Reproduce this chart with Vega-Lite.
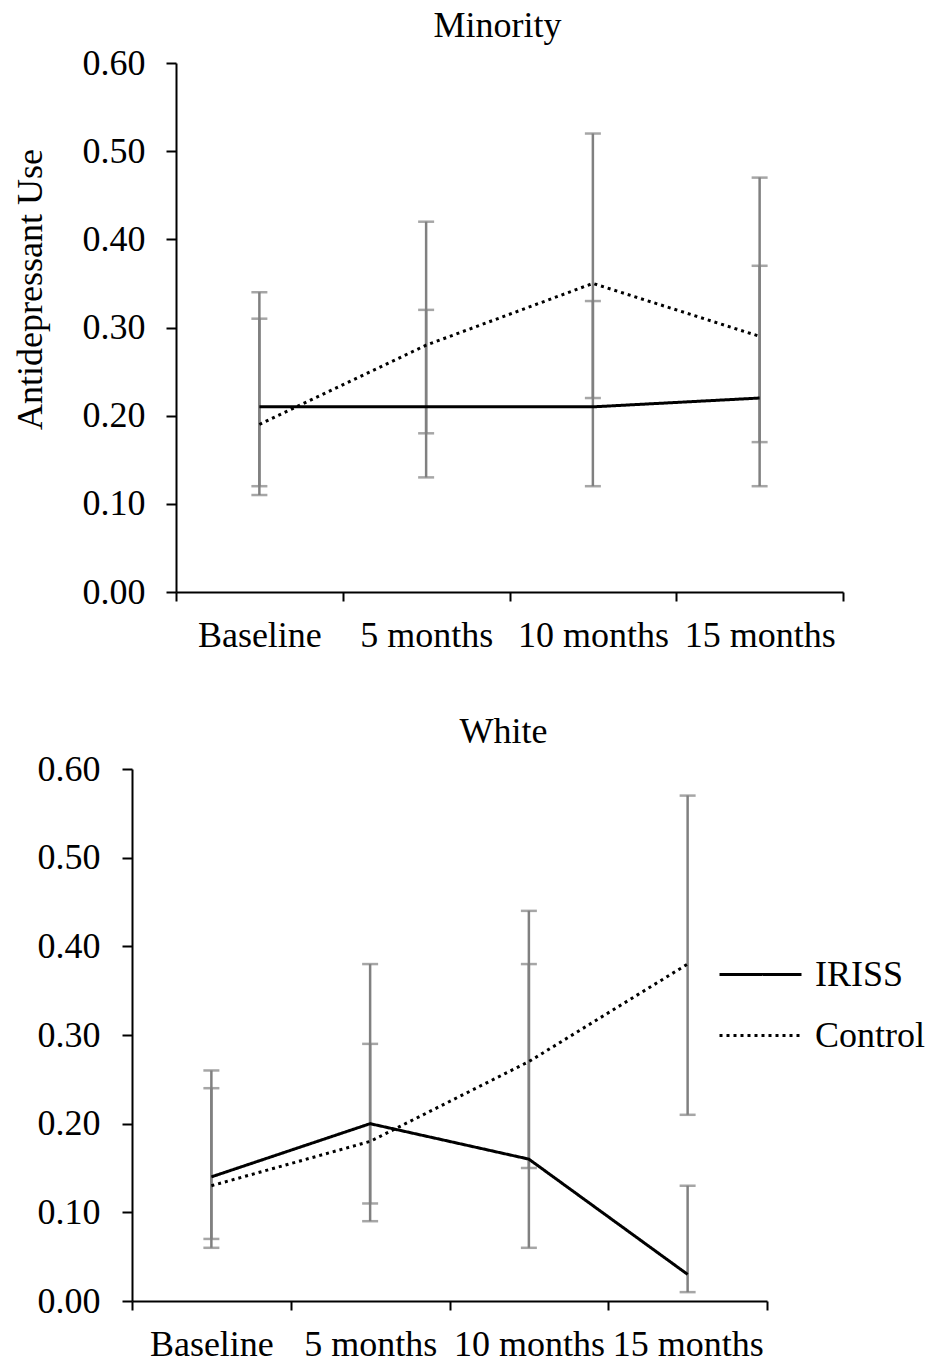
{
  "$schema": "https://vega.github.io/schema/vega-lite/v6.json",
  "background": "white",
  "padding": {"left": 12, "top": 8, "right": 5, "bottom": 5},
  "spacing": 61,
  "config": {
    "font": "Liberation Serif",
    "view": {"stroke": null},
    "axis": {
      "labelFont": "Liberation Serif",
      "labelFontSize": 36,
      "labelColor": "black",
      "titleFont": "Liberation Serif",
      "titleFontSize": 36,
      "titleFontWeight": "normal",
      "titleColor": "black",
      "domainColor": "black",
      "domainWidth": 2,
      "tickColor": "black",
      "tickWidth": 2,
      "grid": false
    },
    "title": {"font": "Liberation Serif", "fontSize": 36, "fontWeight": "normal", "color": "black", "baseline": "alphabetic"}
  },
  "datasets": {
    "minority": [
      {"time": "Baseline", "group": "IRISS", "value": 0.21, "lo": 0.12, "hi": 0.34},
      {"time": "Baseline", "group": "Control", "value": 0.19, "lo": 0.11, "hi": 0.31},
      {"time": "5 months", "group": "IRISS", "value": 0.21, "lo": 0.13, "hi": 0.32},
      {"time": "5 months", "group": "Control", "value": 0.28, "lo": 0.18, "hi": 0.42},
      {"time": "10 months", "group": "IRISS", "value": 0.21, "lo": 0.12, "hi": 0.33},
      {"time": "10 months", "group": "Control", "value": 0.35, "lo": 0.22, "hi": 0.52},
      {"time": "15 months", "group": "IRISS", "value": 0.22, "lo": 0.12, "hi": 0.37},
      {"time": "15 months", "group": "Control", "value": 0.29, "lo": 0.17, "hi": 0.47}
    ],
    "white": [
      {"time": "Baseline", "group": "IRISS", "value": 0.14, "lo": 0.07, "hi": 0.26},
      {"time": "Baseline", "group": "Control", "value": 0.13, "lo": 0.06, "hi": 0.24},
      {"time": "5 months", "group": "IRISS", "value": 0.20, "lo": 0.11, "hi": 0.38},
      {"time": "5 months", "group": "Control", "value": 0.18, "lo": 0.09, "hi": 0.29},
      {"time": "10 months", "group": "IRISS", "value": 0.16, "lo": 0.06, "hi": 0.38},
      {"time": "10 months", "group": "Control", "value": 0.27, "lo": 0.15, "hi": 0.44},
      {"time": "15 months", "group": "IRISS", "value": 0.03, "lo": 0.01, "hi": 0.13},
      {"time": "15 months", "group": "Control", "value": 0.38, "lo": 0.21, "hi": 0.57}
    ]
  },
  "resolve": {"legend": {"strokeDash": "independent"}},
  "vconcat": [
    {
      "width": 711,
      "height": 529,
      "title": {"text": "Minority", "offset": 0, "dx": 10},
      "data": {"name": "minority"},
      "encoding": {
        "x": {
          "field": "time", "type": "nominal",
          "sort": ["Baseline", "5 months", "10 months", "15 months"],
          "scale": {"type": "band", "range": [44, 711], "paddingInner": 0, "paddingOuter": 0},
          "axis": {"title": null, "labelAngle": 0, "tickBand": "extent", "tickSize": 9, "labelPadding": 17}
        }
      },
      "layer": [
        {
          "mark": {"type": "rule", "color": "#808080", "strokeWidth": 2.5},
          "encoding": {
            "y": {"field": "lo", "type": "quantitative", "scale": {"domain": [0, 0.6]},
              "axis": {"title": "Antidepressant Use", "values": [0, 0.1, 0.2, 0.3, 0.4, 0.5, 0.6], "format": ".2f",
                "offset": -44, "tickSize": 10, "labelPadding": 21,
                "titleX": -146, "titleY": 226, "titleAngle": 270, "titleAlign": "center", "titleBaseline": "middle"}},
            "y2": {"field": "hi"}
          }
        },
        {
          "mark": {"type": "tick", "color": "#808080", "thickness": 2.5, "size": 16},
          "encoding": {"y": {"field": "lo", "type": "quantitative"}}
        },
        {
          "mark": {"type": "tick", "color": "#808080", "thickness": 2.5, "size": 16},
          "encoding": {"y": {"field": "hi", "type": "quantitative"}}
        },
        {
          "mark": {"type": "line", "color": "black", "strokeWidth": 3},
          "encoding": {
            "y": {"field": "value", "type": "quantitative"},
            "strokeDash": {"field": "group", "type": "nominal",
              "scale": {"domain": ["IRISS", "Control"], "range": [[1, 0], [3, 4]]},
              "legend": null}
          }
        }
      ]
    },
    {
      "width": 635,
      "height": 532,
      "title": {"text": "White", "offset": 0, "dx": 54},
      "data": {"name": "white"},
      "encoding": {
        "x": {
          "field": "time", "type": "nominal",
          "sort": ["Baseline", "5 months", "10 months", "15 months"],
          "scale": {"type": "band", "paddingInner": 0, "paddingOuter": 0},
          "axis": {"title": null, "labelAngle": 0, "tickBand": "extent", "tickSize": 9, "labelPadding": 17}
        }
      },
      "layer": [
        {
          "mark": {"type": "rule", "color": "#808080", "strokeWidth": 2.5},
          "encoding": {
            "y": {"field": "lo", "type": "quantitative", "scale": {"domain": [0, 0.6]},
              "axis": {"title": null, "values": [0, 0.1, 0.2, 0.3, 0.4, 0.5, 0.6], "format": ".2f",
                "tickSize": 10, "labelPadding": 22}},
            "y2": {"field": "hi"}
          }
        },
        {
          "mark": {"type": "tick", "color": "#808080", "thickness": 2.5, "size": 16},
          "encoding": {"y": {"field": "lo", "type": "quantitative"}}
        },
        {
          "mark": {"type": "tick", "color": "#808080", "thickness": 2.5, "size": 16},
          "encoding": {"y": {"field": "hi", "type": "quantitative"}}
        },
        {
          "mark": {"type": "line", "color": "black", "strokeWidth": 3},
          "encoding": {
            "y": {"field": "value", "type": "quantitative"},
            "strokeDash": {"field": "group", "type": "nominal",
              "scale": {"domain": ["IRISS", "Control"], "range": [[1, 0], [3, 4]]},
              "legend": {"title": null, "orient": "none", "legendX": 586, "legendY": 163,
                "symbolType": "stroke", "symbolSize": 6724, "symbolStrokeWidth": 3, "symbolStrokeColor": "black",
                "labelFont": "Liberation Serif", "labelFontSize": 36, "labelColor": "black", "labelOffset": 12,
                "rowPadding": -22, "padding": 0}}
          }
        }
      ]
    }
  ]
}
